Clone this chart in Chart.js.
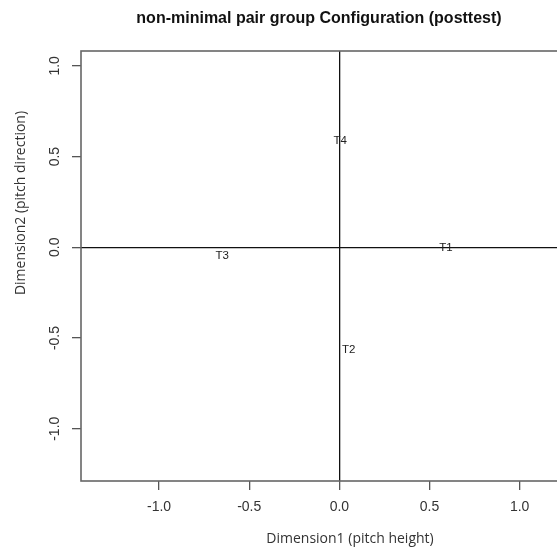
<!DOCTYPE html>
<html>
<head>
<meta charset="utf-8">
<script src="https://cdn.jsdelivr.net/npm/chart.js@4"></script>
<style>
  html, body { margin: 0; padding: 0; background: #fff; }
  #wrap { width: 557px; height: 551px; }
</style>
</head>
<body>
<div id="wrap"><canvas id="myChart" width="557" height="551"></canvas></div>
<script>
// stimulus labels and their MDS coordinates
var stimuli = ["T1", "T2", "T3", "T4"];
var dim1 = [0.591, 0.052, -0.650, 0.004];
var dim2 = [-0.002, -0.564, -0.048, 0.587];

// axis ranges
var xRange = [-1.433, 1.207];
var yRange = [-1.288, 1.082];

var points = stimuli.map(function (s, i) {
    return { x: dim1[i], y: dim2[i] };
});

var tickFont = { family: "Liberation Sans, Arial, sans-serif", size: 14 };

// zero lines only, tick marks everywhere
function zeroLine(ctx) {
    return ctx.tick && ctx.tick.value === 0 ? "#111" : "rgba(0,0,0,0)";
}

// box around the plot, text labels at each point, axis titles
var mdsPlugin = {
    id: "mdsPlugin",
    afterDatasetsDraw: function (chart) {
        var c = chart.ctx;
        var area = chart.chartArea;
        c.save();
        c.strokeStyle = "#666";
        c.lineWidth = 1.6;
        c.strokeRect(area.left, area.top, area.right - area.left + 5, area.bottom - area.top);

        c.fillStyle = "#222";
        c.font = "11.5px Liberation Sans, Arial, sans-serif";
        c.textAlign = "center";
        c.textBaseline = "middle";
        chart.getDatasetMeta(0).data.forEach(function (el, i) {
            c.fillText(stimuli[i], el.x, el.y);
        });

        c.fillStyle = "#333";
        c.font = "14px Open Sans, Arial, sans-serif";
        c.fillText("Dimension1 (pitch height)", 350, 539);
        c.translate(21, 203);
        c.rotate(-Math.PI / 2);
        c.fillText("Dimension2 (pitch direction)", 0, 0);
        c.restore();
    }
};

var ctx = document.getElementById("myChart").getContext("2d");
var myChart = new Chart(ctx, {
    type: "scatter",
    data: {
        datasets: [{
            label: "configuration",
            data: points,
            pointRadius: 0,
            pointHoverRadius: 0
        }]
    },
    options: {
        responsive: false,
        animation: false,
        layout: { padding: 0 },
        plugins: {
            legend: { display: false },
            tooltip: { enabled: false },
            title: {
                display: true,
                fullSize: false,
                text: "non-minimal pair group Configuration (posttest)",
                color: "#111",
                font: { family: "Liberation Sans, Arial, sans-serif", size: 16, weight: "bold" },
                padding: { top: 9, bottom: 22.8 }
            }
        },
        scales: {
            x: {
                type: "linear",
                min: xRange[0],
                max: xRange[1],
                border: { display: false },
                grid: {
                    color: zeroLine,
                    lineWidth: 1.3,
                    drawTicks: true,
                    tickLength: 9,
                    tickColor: "#555",
                    tickWidth: 1.3
                },
                ticks: {
                    stepSize: 0.5,
                    includeBounds: false,
                    color: "#333",
                    font: tickFont,
                    padding: 9,
                    maxRotation: 0,
                    callback: function (v) { return v.toFixed(1); }
                },
                afterFit: function (scale) { scale.height = 70; }
            },
            y: {
                type: "linear",
                min: yRange[0],
                max: yRange[1],
                border: { display: false },
                grid: {
                    color: zeroLine,
                    lineWidth: 1.3,
                    drawTicks: true,
                    tickLength: 9,
                    tickColor: "#555",
                    tickWidth: 1.3
                },
                ticks: {
                    stepSize: 0.5,
                    includeBounds: false,
                    color: "#333",
                    font: tickFont,
                    padding: 5,
                    minRotation: 90,
                    maxRotation: 90,
                    crossAlign: "center",
                    callback: function (v) { return v.toFixed(1); }
                },
                afterFit: function (scale) { scale.width = 81; }
            }
        }
    },
    plugins: [mdsPlugin]
});
</script>
</body>
</html>
